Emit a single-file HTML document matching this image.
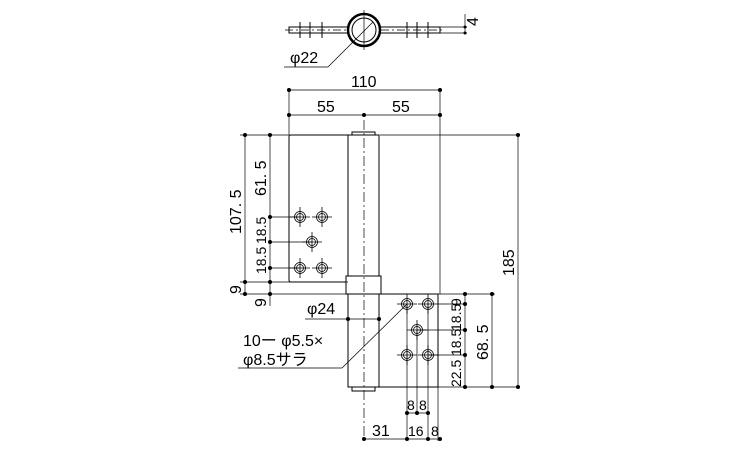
<!DOCTYPE html>
<html><head><style>body{margin:0;background:#fff}svg{display:block}text{font-family:"Liberation Sans","Noto Sans CJK JP",sans-serif;fill:#000}</style></head><body>
<svg width="750" height="450" viewBox="0 0 750 450" xmlns="http://www.w3.org/2000/svg">
<g stroke="#000" stroke-width="1" fill="none">
<rect x="289" y="27" width="151" height="6"/>
<line x1="285" y1="30" x2="445" y2="30" stroke-dasharray="8,3,2,3" stroke-width="0.7"/>
<circle cx="364" cy="30" r="16" stroke-width="2.5" fill="#fff"/>
<circle cx="364" cy="30" r="12"/>
<line x1="364" y1="10" x2="364" y2="50" stroke-width="0.7"/>
<line x1="300" y1="22" x2="300" y2="38"/><line x1="310" y1="22" x2="310" y2="38"/><line x1="322" y1="22" x2="322" y2="38"/>
<line x1="407" y1="22" x2="407" y2="38"/><line x1="417" y1="22" x2="417" y2="38"/><line x1="428" y1="22" x2="428" y2="38"/>
<line x1="440" y1="27" x2="467" y2="27" stroke-width="0.7"/><line x1="440" y1="33" x2="467" y2="33" stroke-width="0.7"/>
<line x1="465" y1="14" x2="465" y2="33" stroke-width="0.7"/>
<line x1="284" y1="67" x2="328" y2="67" stroke-width="0.7"/><line x1="328" y1="67" x2="373" y2="22" stroke-width="0.7"/>
<line x1="289" y1="88" x2="289" y2="135" stroke-width="0.7"/><line x1="440" y1="88" x2="440" y2="294" stroke-width="0.7"/>
<line x1="289" y1="90" x2="440" y2="90" stroke-width="0.7"/><line x1="289" y1="115" x2="440" y2="115" stroke-width="0.7"/>
<path d="M348 135 H291 Q289 135 289 137 V280 Q289 282 291 282 H348"/>
<rect x="348" y="135" width="31" height="252"/>
<path d="M352 135 V132 H375 V135"/>
<rect x="346" y="276" width="35" height="18" fill="#fff"/>
<path d="M352 387 V391 H375 V387"/>
<line x1="364" y1="120" x2="364" y2="441" stroke-dasharray="10,3,2,3" stroke-width="0.7"/>
<path d="M381 294 H438 V387 H379"/>
<line x1="240" y1="135" x2="289" y2="135" stroke-width="0.7"/><line x1="380" y1="135" x2="520" y2="135" stroke-width="0.7"/>
<line x1="240" y1="282" x2="348" y2="282" stroke-width="0.7"/><line x1="240" y1="294" x2="346" y2="294" stroke-width="0.7"/>
<line x1="438" y1="294" x2="495" y2="294" stroke-width="0.7"/><line x1="438" y1="387" x2="520" y2="387" stroke-width="0.7"/>
<line x1="270" y1="217" x2="300" y2="217" stroke-width="0.7"/><line x1="270" y1="242" x2="312" y2="242" stroke-width="0.7"/><line x1="270" y1="268" x2="300" y2="268" stroke-width="0.7"/>
<line x1="438" y1="304" x2="467" y2="304" stroke-width="0.7"/><line x1="417" y1="330" x2="467" y2="330" stroke-width="0.7"/><line x1="428" y1="355" x2="467" y2="355" stroke-width="0.7"/>
<line x1="245" y1="135" x2="245" y2="294" stroke-width="0.7"/>
<line x1="270" y1="135" x2="270" y2="306" stroke-width="0.7"/>
<line x1="518" y1="135" x2="518" y2="387" stroke-width="0.7"/>
<line x1="492" y1="294" x2="492" y2="387" stroke-width="0.7"/>
<line x1="465" y1="294" x2="465" y2="387" stroke-width="0.7"/>
<line x1="407" y1="304" x2="407" y2="441" stroke-width="0.7"/><line x1="417" y1="330" x2="417" y2="415" stroke-width="0.7"/><line x1="428" y1="304" x2="428" y2="441" stroke-width="0.7"/>
<line x1="438" y1="387" x2="438" y2="441" stroke-width="0.7"/>
<line x1="407" y1="413" x2="428" y2="413" stroke-width="0.7"/>
<line x1="364" y1="439" x2="440" y2="439" stroke-width="0.7"/>
<line x1="305" y1="319" x2="381" y2="319" stroke-width="0.7"/>
<line x1="238" y1="368" x2="342" y2="368" stroke-width="0.7"/><line x1="342" y1="368" x2="407" y2="304" stroke-width="0.7"/>
</g>
<g stroke="#000" fill="none" stroke-width="0.8">
<g transform="translate(300,217)"><circle r="5.5"/><circle r="3.5"/><line x1="-10" x2="10"/><line y1="-10" y2="10"/></g>
<g transform="translate(322,217)"><circle r="5.5"/><circle r="3.5"/><line x1="-10" x2="10"/><line y1="-10" y2="10"/></g>
<g transform="translate(312,242)"><circle r="5.5"/><circle r="3.5"/><line x1="-10" x2="10"/><line y1="-10" y2="10"/></g>
<g transform="translate(300,268)"><circle r="5.5"/><circle r="3.5"/><line x1="-10" x2="10"/><line y1="-10" y2="10"/></g>
<g transform="translate(322,268)"><circle r="5.5"/><circle r="3.5"/><line x1="-10" x2="10"/><line y1="-10" y2="10"/></g>
<g transform="translate(407,304)"><circle r="5.5"/><circle r="3.5"/><line x1="-10" x2="10"/><line y1="-10" y2="10"/></g>
<g transform="translate(428,304)"><circle r="5.5"/><circle r="3.5"/><line x1="-10" x2="10"/><line y1="-10" y2="10"/></g>
<g transform="translate(417,330)"><circle r="5.5"/><circle r="3.5"/><line x1="-10" x2="10"/><line y1="-10" y2="10"/></g>
<g transform="translate(407,355)"><circle r="5.5"/><circle r="3.5"/><line x1="-10" x2="10"/><line y1="-10" y2="10"/></g>
<g transform="translate(428,355)"><circle r="5.5"/><circle r="3.5"/><line x1="-10" x2="10"/><line y1="-10" y2="10"/></g>
</g>
<g fill="#000">
<circle cx="289" cy="90" r="2"/><circle cx="440" cy="90" r="2"/><circle cx="289" cy="115" r="2"/><circle cx="364" cy="115" r="2"/><circle cx="440" cy="115" r="2"/>
<circle cx="245" cy="135" r="2"/><circle cx="245" cy="282" r="2"/><circle cx="245" cy="294" r="2"/>
<circle cx="270" cy="135" r="2"/><circle cx="270" cy="217" r="2"/><circle cx="270" cy="242" r="2"/><circle cx="270" cy="268" r="2"/><circle cx="270" cy="282" r="2"/><circle cx="270" cy="294" r="2"/>
<circle cx="518" cy="135" r="2"/><circle cx="518" cy="387" r="2"/><circle cx="492" cy="294" r="2"/><circle cx="492" cy="387" r="2"/>
<circle cx="465" cy="294" r="2"/><circle cx="465" cy="304" r="2"/><circle cx="465" cy="330" r="2"/><circle cx="465" cy="355" r="2"/><circle cx="465" cy="387" r="2"/>
<circle cx="407" cy="413" r="2"/><circle cx="417" cy="413" r="2"/><circle cx="428" cy="413" r="2"/>
<circle cx="364" cy="439" r="2"/><circle cx="407" cy="439" r="2"/><circle cx="428" cy="439" r="2"/><circle cx="440" cy="439" r="2"/>
<circle cx="348" cy="319" r="2"/><circle cx="379" cy="319" r="2"/>
<circle cx="465" cy="27" r="1.5"/><circle cx="465" cy="33" r="1.5"/>
</g>
<g font-size="16">
<text x="351" y="87">110</text>
<text x="317" y="112">55</text><text x="392" y="112">55</text>
<text x="290" y="63">φ22</text>
<text x="307" y="314">φ24</text>
<text x="243" y="346">10ー φ5.5×</text>
<text x="243" y="365">φ8.5サラ</text>
<text x="372" y="436">31</text>
<text x="408" y="436" font-size="14">16</text><text x="431" y="436" font-size="14">8</text>
<text x="407" y="410" font-size="14">8</text><text x="419" y="410" font-size="14">8</text>
<text transform="translate(241,234) rotate(-90)">107. 5</text>
<text transform="translate(266,196) rotate(-90)">61. 5</text>
<text transform="translate(266,244) rotate(-90)" font-size="14">18.5</text>
<text transform="translate(266,274) rotate(-90)" font-size="14">18.5</text>
<text transform="translate(241,294) rotate(-90)">9</text>
<text transform="translate(266,307) rotate(-90)">9</text>
<text transform="translate(514,276) rotate(-90)">185</text>
<text transform="translate(488,360) rotate(-90)">68. 5</text>
<text transform="translate(461,306) rotate(-90)" font-size="14">9</text>
<text transform="translate(461,331) rotate(-90)" font-size="14">18.5</text>
<text transform="translate(461,356) rotate(-90)" font-size="14">18.5</text>
<text transform="translate(461,387) rotate(-90)" font-size="14">22.5</text>
<text transform="translate(478,26) rotate(-90)">4</text>
</g>
</svg>
</body></html>
